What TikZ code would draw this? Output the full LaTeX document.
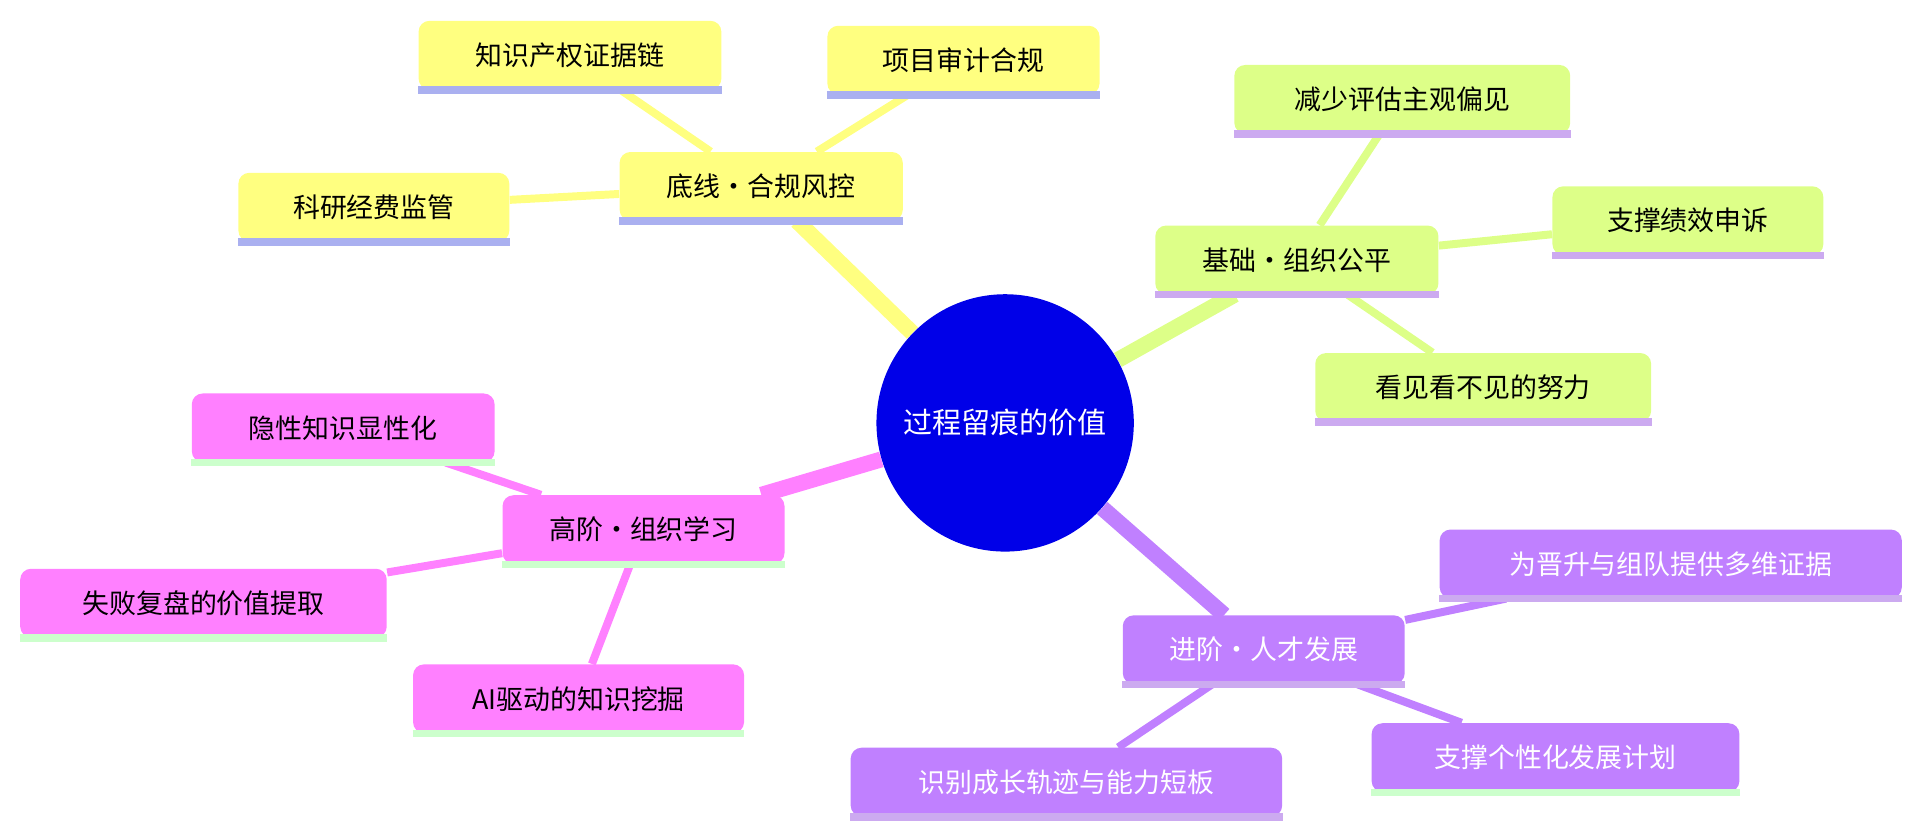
\documentclass[tikz,border=0pt]{standalone}
\usepackage{fontspec}
\setmainfont{Noto Sans CJK SC}
\usetikzlibrary{backgrounds}
\definecolor{yel}{HTML}{FFFF80}
\definecolor{grn}{HTML}{DDFF88}
\definecolor{pnk}{HTML}{FF80FF}
\definecolor{pur}{HTML}{C080FF}
\definecolor{lav}{HTML}{AAB0F0}
\definecolor{lpur}{HTML}{CCAAF0}
\definecolor{lgrn}{HTML}{CCFFCC}
\definecolor{cblue}{HTML}{0000E8}
\tikzset{
  box/.style={rounded corners=5pt, minimum height=1.12cm, inner sep=0pt, font=\fontsize{12.5}{15}\selectfont},
  ul/.style={line width=3.5pt},
  trunk/.style={line width=0.26cm},
  twig/.style={line width=0.13cm},
}
\newcommand{\bx}[6]{% name, x, y, width, fill, line ; text via #6
  \node[box, fill=#5, minimum width=#4*0.02cm] (#1) at (#2,#3) {#6};}
\begin{document}
\begin{tikzpicture}[x=0.02cm,y=-0.02cm]
\useasboundingbox (0,0) rectangle (1568,681);
\node[circle, fill=cblue, minimum size=4.2cm, text=white, font=\fontsize{13.5}{16}\selectfont] (c) at (820,345) {过程留痕的价值};
\bx{a}{621}{152}{231}{yel}{底线·合规风控}
\bx{a1}{465}{45}{247}{yel}{知识产权证据链}
\bx{a2}{786}{49}{222}{yel}{项目审计合规}
\bx{a3}{305}{169}{221}{yel}{科研经费监管}
\bx{b}{1058}{212}{231}{grn}{基础·组织公平}
\bx{b1}{1144}{81}{274}{grn}{减少评估主观偏见}
\bx{b2}{1377}{180}{221}{grn}{支撑绩效申诉}
\bx{b3}{1210}{316}{274}{grn}{看见看不见的努力}
\bx{d}{525}{432}{230}{pnk}{高阶·组织学习}
\bx{d1}{280}{349}{247}{pnk}{隐性知识显性化}
\bx{d2}{166}{492}{299}{pnk}{失败复盘的价值提取}
\bx{d3}{472}{570}{270}{pnk}{AI驱动的知识挖掘}
\bx{e}{1031}{530}{230}{pur}{\color{white}进阶·人才发展}
\bx{e1}{1363}{460}{377}{pur}{\color{white}为晋升与组队提供多维证据}
\bx{e2}{1269}{618}{300}{pur}{\color{white}支撑个性化发展计划}
\bx{e3}{870}{638}{352}{pur}{\color{white}识别成长轨迹与能力短板}
\foreach \n in {a,a1,a2,a3} \draw[ul,lav] (\n.south west) -- (\n.south east);
\foreach \n in {b,b1,b2,b3,e,e1,e3} \draw[ul,lpur] (\n.south west) -- (\n.south east);
\foreach \n in {d,d1,d2,d3,e2} \draw[ul,lgrn] (\n.south west) -- (\n.south east);
\begin{pgfonlayer}{background}
\draw[trunk,yel] (c) -- (a);
\draw[twig,yel] (a) -- (a1); \draw[twig,yel] (a) -- (a2); \draw[twig,yel] (a) -- (a3);
\draw[trunk,grn] (c) -- (b);
\draw[twig,grn] (b) -- (b1); \draw[twig,grn] (b) -- (b2); \draw[twig,grn] (b) -- (b3);
\draw[trunk,pnk] (c) -- (d);
\draw[twig,pnk] (d) -- (d1); \draw[twig,pnk] (d) -- (d2); \draw[twig,pnk] (d) -- (d3);
\draw[trunk,pur] (c) -- (e);
\draw[twig,pur] (e) -- (e1); \draw[twig,pur] (e) -- (e2); \draw[twig,pur] (e) -- (e3);
\end{pgfonlayer}
\end{tikzpicture}
\end{document}
